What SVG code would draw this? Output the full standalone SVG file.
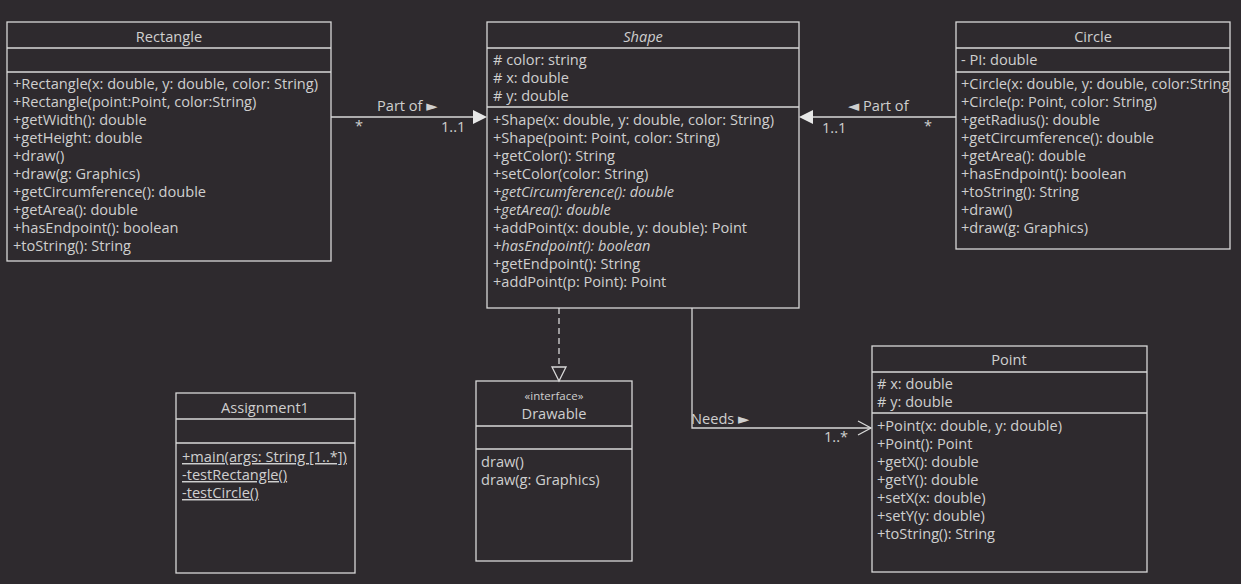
<svg xmlns="http://www.w3.org/2000/svg" width="1241" height="584" viewBox="0 0 1241 584">
  <style>
    .box { fill: none; stroke: #d8d8d8; stroke-width: 1.3; }
    .sep { stroke: #d8d8d8; stroke-width: 1.3; }
    .t { font-family: "Open Sans", "Noto Sans", "DejaVu Sans", sans-serif; font-size: 14.6px; fill: #cfcfcf; }
    .title { text-anchor: middle; }
    .it { font-style: italic; }
    .ul { text-decoration: underline; }
    .small { font-size: 11.5px; }
    .edge { stroke: #d8d8d8; stroke-width: 1.3; fill: none; }
    .dash { stroke-dasharray: 6 4; }
  </style>
  <defs>
    <clipPath id="circleClip"><rect x="956" y="22" width="274" height="228"/></clipPath>
  </defs>
  <rect width="1241" height="584" fill="#2e2a2e"/>

  <!-- class Rectangle -->
  <g id="Rectangle">
    <rect class="box" x="7" y="22" width="324" height="239"/>
    <line class="sep" x1="7" y1="48" x2="331" y2="48"/>
    <line class="sep" x1="7" y1="72" x2="331" y2="72"/>
    <text class="t title" x="169" y="42">Rectangle</text>
    <text class="t" x="13" y="89">+Rectangle(x: double, y: double, color: String)</text>
    <text class="t" x="13" y="107">+Rectangle(point:Point, color:String)</text>
    <text class="t" x="13" y="125">+getWidth(): double</text>
    <text class="t" x="13" y="143">+getHeight: double</text>
    <text class="t" x="13" y="161">+draw()</text>
    <text class="t" x="13" y="179">+draw(g: Graphics)</text>
    <text class="t" x="13" y="197">+getCircumference(): double</text>
    <text class="t" x="13" y="215">+getArea(): double</text>
    <text class="t" x="13" y="233">+hasEndpoint(): boolean</text>
    <text class="t" x="13" y="251">+toString(): String</text>
  </g>

  <!-- abstract class Shape -->
  <g id="Shape">
    <rect class="box" x="487" y="22" width="312" height="286"/>
    <line class="sep" x1="487" y1="48" x2="799" y2="48"/>
    <line class="sep" x1="487" y1="107" x2="799" y2="107"/>
    <text class="t title it" x="643" y="42">Shape</text>
    <text class="t" x="493" y="65"># color: string</text>
    <text class="t" x="493" y="83"># x: double</text>
    <text class="t" x="493" y="101"># y: double</text>
    <text class="t" x="493" y="125">+Shape(x: double, y: double, color: String)</text>
    <text class="t" x="493" y="143">+Shape(point: Point, color: String)</text>
    <text class="t" x="493" y="161">+getColor(): String</text>
    <text class="t" x="493" y="179">+setColor(color: String)</text>
    <text class="t it" x="493" y="197">+getCircumference(): double</text>
    <text class="t it" x="493" y="215">+getArea(): double</text>
    <text class="t" x="493" y="233">+addPoint(x: double, y: double): Point</text>
    <text class="t it" x="493" y="251">+hasEndpoint(): boolean</text>
    <text class="t" x="493" y="269">+getEndpoint(): String</text>
    <text class="t" x="493" y="287">+addPoint(p: Point): Point</text>
  </g>

  <!-- class Circle -->
  <g id="Circle">
    <rect class="box" x="956" y="22" width="274" height="227"/>
    <line class="sep" x1="956" y1="48" x2="1230" y2="48"/>
    <line class="sep" x1="956" y1="72" x2="1230" y2="72"/>
    <text class="t title" x="1093" y="42">Circle</text>
    <g clip-path="url(#circleClip)">
      <text class="t" x="961" y="65">- PI: double</text>
      <text class="t" x="961" y="89">+Circle(x: double, y: double, color:String)</text>
      <text class="t" x="961" y="107">+Circle(p: Point, color: String)</text>
      <text class="t" x="961" y="125">+getRadius(): double</text>
      <text class="t" x="961" y="143">+getCircumference(): double</text>
      <text class="t" x="961" y="161">+getArea(): double</text>
      <text class="t" x="961" y="179">+hasEndpoint(): boolean</text>
      <text class="t" x="961" y="197">+toString(): String</text>
      <text class="t" x="961" y="215">+draw()</text>
      <text class="t" x="961" y="233">+draw(g: Graphics)</text>
    </g>
  </g>

  <!-- class Assignment1 -->
  <g id="Assignment1">
    <rect class="box" x="176" y="393" width="179" height="180"/>
    <line class="sep" x1="176" y1="419" x2="355" y2="419"/>
    <line class="sep" x1="176" y1="443" x2="355" y2="443"/>
    <text class="t title" x="265" y="413">Assignment1</text>
    <text class="t ul" x="182" y="462">+main(args: String [1..*])</text>
    <text class="t ul" x="182" y="480">-testRectangle()</text>
    <text class="t ul" x="182" y="498">-testCircle()</text>
  </g>

  <!-- interface Drawable -->
  <g id="Drawable">
    <rect class="box" x="476" y="381" width="156" height="180"/>
    <line class="sep" x1="476" y1="426" x2="632" y2="426"/>
    <line class="sep" x1="476" y1="449" x2="632" y2="449"/>
    <text class="t title small" x="554" y="400">«interface»</text>
    <text class="t title" x="554" y="419">Drawable</text>
    <text class="t" x="481" y="467">draw()</text>
    <text class="t" x="481" y="485">draw(g: Graphics)</text>
  </g>

  <!-- class Point -->
  <g id="Point">
    <rect class="box" x="872" y="346" width="275" height="226"/>
    <line class="sep" x1="872" y1="372" x2="1147" y2="372"/>
    <line class="sep" x1="872" y1="413" x2="1147" y2="413"/>
    <text class="t title" x="1009" y="365">Point</text>
    <text class="t" x="877" y="389"># x: double</text>
    <text class="t" x="877" y="407"># y: double</text>
    <text class="t" x="877" y="431">+Point(x: double, y: double)</text>
    <text class="t" x="877" y="449">+Point(): Point</text>
    <text class="t" x="877" y="467">+getX(): double</text>
    <text class="t" x="877" y="485">+getY(): double</text>
    <text class="t" x="877" y="503">+setX(x: double)</text>
    <text class="t" x="877" y="521">+setY(y: double)</text>
    <text class="t" x="877" y="539">+toString(): String</text>
  </g>

  <!-- relationships -->
  <g id="connectors">
    <!-- Rectangle part of Shape -->
    <line class="edge" x1="331" y1="117" x2="474" y2="117"/>
    <polygon points="487,117 473,110 473,124" fill="#e8e8e8"/>
    <text class="t" x="377" y="111">Part of ►</text>
    <text class="t" x="355" y="131">*</text>
    <text class="t" x="441" y="132">1..1</text>

    <!-- Circle part of Shape -->
    <line class="edge" x1="956" y1="117" x2="813" y2="117"/>
    <polygon points="799,117 813,110 813,124" fill="#e8e8e8"/>
    <text class="t" x="848" y="111">◄ Part of</text>
    <text class="t" x="822" y="133">1..1</text>
    <text class="t" x="924" y="131">*</text>

    <!-- Shape realizes Drawable -->
    <line class="edge dash" x1="559" y1="308" x2="559" y2="367"/>
    <polygon class="edge" points="552,367 566,367 559,381"/>

    <!-- Shape needs Point -->
    <polyline class="edge" points="692,308 692,428 871,428"/>
    <polyline class="edge" points="858,421 871,428 858,435"/>
    <text class="t" x="691" y="424">Needs ►</text>
    <text class="t" x="824" y="442">1..*</text>
  </g>
</svg>
